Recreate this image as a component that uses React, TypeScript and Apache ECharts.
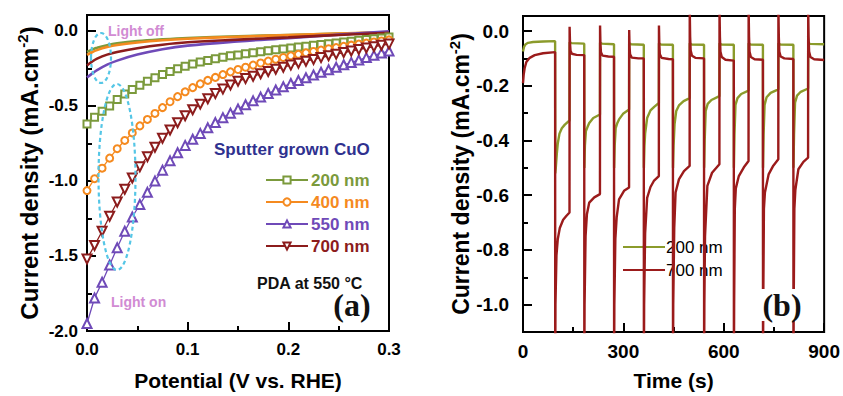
import React, { useEffect, useRef } from "react";
import * as echarts from "echarts";

// ---------- Panel (a): linear sweep voltammetry ----------
const potentialOn = [
  0, 0.0075, 0.015, 0.0225, 0.03, 0.0375, 0.045, 0.0525, 0.06, 0.0675, 0.075,
  0.0825, 0.09, 0.0975, 0.105, 0.1125, 0.12, 0.1275, 0.135, 0.1425, 0.15,
  0.1575, 0.165, 0.1725, 0.18, 0.1875, 0.195, 0.2025, 0.21, 0.2175, 0.225,
  0.2325, 0.24, 0.2475, 0.255, 0.2625, 0.27, 0.2775, 0.285, 0.2925, 0.3,
];
const j200On = [
  -0.62, -0.575, -0.535, -0.5, -0.457, -0.42, -0.39, -0.362, -0.336, -0.312,
  -0.29, -0.27, -0.253, -0.236, -0.221, -0.208, -0.197, -0.186, -0.176, -0.166,
  -0.16, -0.153, -0.146, -0.139, -0.132, -0.126, -0.12, -0.114, -0.108, -0.102,
  -0.096, -0.091, -0.085, -0.08, -0.074, -0.069, -0.063, -0.058, -0.052, -0.047,
  -0.041,
];
const j400On = [
  -1.064, -0.985, -0.915, -0.848, -0.785, -0.73, -0.68, -0.633, -0.59, -0.55,
  -0.511, -0.472, -0.438, -0.406, -0.378, -0.353, -0.33, -0.31, -0.291, -0.273,
  -0.257, -0.242, -0.228, -0.214, -0.201, -0.189, -0.177, -0.166, -0.156, -0.146,
  -0.137, -0.128, -0.119, -0.111, -0.103, -0.095, -0.088, -0.081, -0.074, -0.067,
  -0.06,
];
const j550On = [
  -1.95, -1.78, -1.675, -1.56, -1.445, -1.335, -1.24, -1.157, -1.076, -1.0,
  -0.928, -0.866, -0.812, -0.763, -0.722, -0.683, -0.646, -0.611, -0.578, -0.548,
  -0.52, -0.492, -0.466, -0.441, -0.417, -0.394, -0.372, -0.351, -0.331, -0.312,
  -0.294, -0.276, -0.259, -0.242, -0.226, -0.21, -0.194, -0.178, -0.163, -0.148,
  -0.134,
];
const j700On = [
  -1.52, -1.43, -1.335, -1.235, -1.14, -1.055, -0.98, -0.905, -0.838, -0.775,
  -0.715, -0.66, -0.612, -0.565, -0.525, -0.488, -0.452, -0.418, -0.388, -0.36,
  -0.335, -0.318, -0.302, -0.286, -0.271, -0.256, -0.242, -0.228, -0.215, -0.202,
  -0.19, -0.178, -0.166, -0.155, -0.144, -0.134, -0.124, -0.114, -0.105, -0.096,
  -0.088,
];

const potentialDark = [0, 0.005, 0.01, 0.02, 0.03, 0.05, 0.075, 0.1, 0.15, 0.2, 0.25, 0.3];
const j200Dark = [-0.14, -0.125, -0.112, -0.095, -0.083, -0.068, -0.056, -0.047, -0.036, -0.027, -0.018, -0.01];
const j400Dark = [-0.16, -0.142, -0.128, -0.108, -0.094, -0.077, -0.062, -0.052, -0.039, -0.028, -0.017, -0.007];
const j550Dark = [-0.31, -0.285, -0.262, -0.225, -0.198, -0.158, -0.122, -0.098, -0.07, -0.048, -0.025, -0.003];
const j700Dark = [-0.23, -0.205, -0.185, -0.158, -0.14, -0.115, -0.092, -0.076, -0.058, -0.043, -0.027, -0.012];

const thicknessLabels = ["200 nm", "400 nm", "550 nm", "700 nm"];
const thicknessColors = ["#7b9a3c", "#f58a1f", "#6f4ab8", "#8c1c1c"];
const thicknessSymbols = ["emptyRect", "emptyCircle", "emptyTriangle", "emptyTriangle"];
const thicknessRotate = [0, 0, 0, 180];

// ---------- Panel (b): chopped-light chronoamperometry [time s, current mA/cm2] ----------
const chopped200 = [
  [0, -0.075], [3, -0.058], [8, -0.048], [15, -0.043], [30, -0.04], [60, -0.038], [96, -0.037],
  [96.3, -0.52], [98, -0.5], [101, -0.45], [104, -0.41], [109, -0.375], [116, -0.355], [125, -0.342], [139, -0.327],
  [139.3, -0.041], [145, -0.044], [183, -0.046],
  [183.3, -0.5], [185, -0.42], [188, -0.366], [193, -0.35], [198, -0.336], [210, -0.318], [230, -0.305],
  [230.3, -0.043], [236, -0.046], [272, -0.048],
  [272.3, -0.5], [274, -0.42], [277, -0.355], [282, -0.336], [287, -0.323], [300, -0.301], [317, -0.287],
  [317.3, -0.045], [323, -0.048], [361, -0.05],
  [361.3, -0.5], [363, -0.42], [365, -0.375], [371, -0.318], [381, -0.29], [392, -0.277], [406, -0.263],
  [406.3, -0.045], [412, -0.049], [448, -0.05],
  [448.3, -0.5], [450, -0.42], [453, -0.34], [458, -0.292], [466, -0.272], [480, -0.256], [498, -0.245],
  [498.3, -0.045], [504, -0.049], [541, -0.05],
  [541.3, -0.5], [543, -0.4], [546, -0.292], [552, -0.266], [563, -0.252], [587, -0.238],
  [587.3, -0.045], [593, -0.049], [630, -0.05],
  [630.3, -0.5], [632, -0.38], [635, -0.27], [641, -0.245], [652, -0.23], [674, -0.218],
  [674.3, -0.045], [680, -0.049], [717, -0.05],
  [717.3, -0.5], [719, -0.38], [722, -0.27], [728, -0.242], [740, -0.226], [763, -0.213],
  [763.3, -0.045], [769, -0.049], [808, -0.05],
  [808.3, -0.5], [810, -0.38], [813, -0.262], [819, -0.236], [830, -0.222], [852, -0.21],
  [852.3, -0.044], [858, -0.047], [900, -0.048],
];
const chopped700 = [
  [0, -0.19], [2, -0.16], [5, -0.135], [10, -0.113], [20, -0.098], [35, -0.088], [60, -0.081], [96, -0.077],
  [96.3, -1.3], [97, -1.0], [100, -0.82], [104, -0.76], [110, -0.72], [120, -0.69], [130, -0.675], [139, -0.663],
  [139.3, 0.016], [140.5, -0.045], [142, -0.072], [146, -0.083], [160, -0.087], [183, -0.088],
  [183.3, -1.3], [184, -1.0], [187, -0.75], [191, -0.67], [198, -0.627], [213, -0.608], [230, -0.596],
  [230.3, 0.02], [231.5, -0.05], [233, -0.078], [238, -0.09], [255, -0.093], [272, -0.094],
  [272.3, -1.3], [273, -1.0], [276, -0.76], [280, -0.68], [287, -0.615], [302, -0.584], [317, -0.572],
  [317.3, 0.004], [318.5, -0.06], [320, -0.085], [325, -0.097], [345, -0.1], [361, -0.1],
  [361.3, -1.3], [362, -1.0], [365, -0.74], [371, -0.61], [381, -0.57], [391, -0.548], [406, -0.53],
  [406.3, 0.02], [407.5, -0.055], [409, -0.085], [414, -0.098], [435, -0.102], [448, -0.103],
  [448.3, -1.3], [449, -1.0], [452, -0.72], [456, -0.59], [466, -0.542], [481, -0.512], [498, -0.493],
  [498.3, 0.08], [499.5, -0.02], [501, -0.07], [505, -0.09], [515, -0.098], [541, -0.1],
  [541.3, -1.3], [542, -1.0], [544, -0.75], [551, -0.566], [565, -0.518], [587, -0.487],
  [587.3, 0.08], [588.5, -0.02], [590, -0.075], [594, -0.095], [605, -0.105], [630, -0.108],
  [630.3, -1.3], [631, -1.0], [633, -0.65], [636, -0.575], [645, -0.53], [660, -0.498], [674, -0.475],
  [674.3, 0.08], [675.5, -0.02], [677, -0.075], [681, -0.095], [692, -0.103], [717, -0.105],
  [717.3, -1.3], [718, -1.0], [720, -0.65], [723, -0.59], [734, -0.524], [748, -0.492], [763, -0.469],
  [763.3, 0.08], [764.5, -0.02], [766, -0.075], [770, -0.093], [781, -0.1], [808, -0.102],
  [808.3, -1.3], [809, -1.0], [811, -0.65], [814, -0.58], [823, -0.505], [838, -0.478], [852, -0.463],
  [852.3, 0.08], [853.5, -0.02], [855, -0.075], [859, -0.095], [870, -0.103], [900, -0.106],
];
const choppedLabels = ["200 nm", "700 nm"];
const choppedColors = ["#8b9b2b", "#9b1b1b"];

const FONT = "'Liberation Sans', Arial, Helvetica, sans-serif";
const SERIF = "'Liberation Serif', 'Times New Roman', serif";

function baseAxis(labelSize: number) {
  return {
    type: "value" as const,
    axisLine: { show: true, onZero: false, lineStyle: { color: "#000", width: 2 } },
    axisTick: { show: true, inside: true, length: 9, lineStyle: { color: "#000", width: 2 } },
    splitLine: { show: false },
    axisLabel: { color: "#000", fontSize: labelSize, fontWeight: "bold" as const, fontFamily: FONT },
    nameTextStyle: { color: "#000", fontSize: 21, fontWeight: "bold" as const, fontFamily: FONT },
  };
}

function minorAxis(gridIndex: number, min: number, max: number, interval: number) {
  return {
    type: "value" as const,
    gridIndex,
    min,
    max,
    interval,
    position: "left" as const,
    axisLine: { show: false },
    axisLabel: { show: false },
    splitLine: { show: false },
    axisTick: { show: true, inside: true, length: 5, lineStyle: { color: "#000", width: 2 } },
  };
}

function yName(size: number, supSize: number) {
  return {
    name: "{t|Current density (mA.cm}{s|-2}{t|)}",
    nameLocation: "middle" as const,
    nameTextStyle: {
      color: "#000",
      rich: {
        t: { fontSize: size, fontWeight: "bold" as const, fontFamily: FONT, color: "#000", lineHeight: size + 4 },
        s: { fontSize: supSize, fontWeight: "bold" as const, fontFamily: FONT, color: "#000", verticalAlign: "top" as const, lineHeight: size + 4 },
      },
    },
  };
}

function buildOption() {
  const seriesA: any[] = [];
  const darkSets = [j200Dark, j400Dark, j550Dark, j700Dark];
  const onSets = [j200On, j400On, j550On, j700On];
  darkSets.forEach((vals, i) => {
    seriesA.push({
      type: "line",
      name: thicknessLabels[i] + " dark",
      xAxisIndex: 0,
      yAxisIndex: 0,
      data: potentialDark.map((x, k) => [x, vals[k]]),
      smooth: 0.4,
      symbol: "none",
      lineStyle: { color: thicknessColors[i], width: 2.6 },
      itemStyle: { color: thicknessColors[i] },
      z: 3,
    });
  });
  onSets.forEach((vals, i) => {
    seriesA.push({
      type: "line",
      name: thicknessLabels[i],
      xAxisIndex: 0,
      yAxisIndex: 0,
      data: potentialOn.map((x, k) => [x, vals[k]]),
      symbol: thicknessSymbols[i],
      symbolSize: i >= 2 ? 9 : 7,
      symbolRotate: thicknessRotate[i],
      showAllSymbol: true,
      lineStyle: { color: thicknessColors[i], width: 1.3 },
      itemStyle: { color: thicknessColors[i], borderWidth: 1.3 },
      z: 4,
    });
  });

  const seriesB: any[] = [chopped200, chopped700].map((pts, i) => ({
    type: "line",
    name: choppedLabels[i] + "|b",
    xAxisIndex: 1,
    yAxisIndex: 2,
    data: pts,
    symbol: "none",
    clip: true,
    lineStyle: { color: choppedColors[i], width: 2.4 },
    itemStyle: { color: choppedColors[i] },
    z: 3 + i,
  }));

  const axA = baseAxis(17);
  const axB = baseAxis(19);

  return {
    animation: false,
    backgroundColor: "#fff",
    grid: [
      { left: 87, top: 15, width: 302, height: 318, show: true, borderColor: "#000", borderWidth: 2, backgroundColor: "transparent" },
      { left: 523, top: 16, width: 303, height: 318, show: true, borderColor: "#000", borderWidth: 2, backgroundColor: "transparent" },
    ],
    xAxis: [
      {
        ...axA,
        gridIndex: 0,
        min: 0,
        max: 0.3,
        interval: 0.1,
        minorTick: { show: true, splitNumber: 2, length: 5, lineStyle: { color: "#000", width: 2 } },
        axisLabel: { ...axA.axisLabel, margin: 10, formatter: (v: number) => v.toFixed(1) },
        name: "Potential (V vs. RHE)",
        nameLocation: "middle",
        nameGap: 39,
      },
      {
        ...axB,
        gridIndex: 1,
        min: 0,
        max: 900,
        interval: 300,
        minorTick: { show: true, splitNumber: 2, length: 5, lineStyle: { color: "#000", width: 2 } },
        axisLabel: { ...axB.axisLabel, margin: 10 },
        name: "Time (s)",
        nameLocation: "middle",
        nameGap: 38,
      },
    ],
    yAxis: [
      {
        ...axA,
        gridIndex: 0,
        min: -2,
        max: 0.106,
        interval: 0.5,
        axisLabel: { ...axA.axisLabel, margin: 9, showMaxLabel: false, formatter: (v: number) => v.toFixed(1) },
        ...yName(24, 15),
        nameGap: 44,
      },
      minorAxis(0, -2, 0.106, 0.25),
      {
        ...axB,
        gridIndex: 1,
        min: -1.1,
        max: 0.055,
        splitNumber: 5,
        axisLabel: {
          ...axB.axisLabel,
          margin: 14,
          showMinLabel: false,
          showMaxLabel: false,
          formatter: (v: number) => {
            const k = Math.round(v / 0.2);
            return Math.abs(v - k * 0.2) < 1e-6 ? v.toFixed(1) : "";
          },
        },
        ...yName(23, 15),
        nameGap: 49,
      },
      minorAxis(1, -1.1, 0.055, 0.1),
    ],
    legend: [
      {
        data: thicknessLabels.map((n, i) => ({ name: n, textStyle: { color: thicknessColors[i] } })),
        left: 260,
        top: 166,
        orient: "vertical",
        itemWidth: 42,
        itemHeight: 9,
        itemGap: 4,
        selectedMode: false,
        textStyle: { fontSize: 17, fontWeight: "bold", fontFamily: FONT, lineHeight: 18, padding: [0, 0, 0, -2] },
      },
      {
        data: choppedLabels.map((n) => n + "|b"),
        formatter: (name: string) => name.split("|")[0],
        left: 617,
        top: 233,
        orient: "vertical",
        itemWidth: 42,
        itemHeight: 4,
        itemGap: 5,
        selectedMode: false,
        textStyle: { fontSize: 17, fontFamily: FONT, color: "#000", lineHeight: 18, padding: [0, 0, 0, -4] },
      },
    ],
    graphic: [
      {
        type: "ellipse",
        shape: { cx: 101, cy: 58, rx: 10, ry: 25 },
        style: { fill: "none", stroke: "#55c6e6", lineWidth: 2.2, lineDash: [4, 3] },
        z: 50,
      },
      {
        type: "ellipse",
        shape: { cx: 117, cy: 177, rx: 18.5, ry: 93 },
        style: { fill: "none", stroke: "#55c6e6", lineWidth: 2.2, lineDash: [4, 3] },
        z: 50,
      },
      {
        type: "text",
        x: 108,
        y: 31,
        style: { text: "Light off", font: `bold 14px ${FONT}`, fill: "#d18bd3", align: "left", verticalAlign: "middle", textAlign: "left", textVerticalAlign: "middle" },
        z: 60,
      },
      {
        type: "text",
        x: 111,
        y: 302,
        style: { text: "Light on", font: `bold 14px ${FONT}`, fill: "#d18bd3", align: "left", verticalAlign: "middle", textAlign: "left", textVerticalAlign: "middle" },
        z: 60,
      },
      {
        type: "text",
        x: 214,
        y: 149,
        style: { text: "Sputter grown CuO", font: `bold 17px ${FONT}`, fill: "#2f318f", align: "left", verticalAlign: "middle", textAlign: "left", textVerticalAlign: "middle" },
        z: 60,
      },
      {
        type: "text",
        x: 257,
        y: 283,
        style: { text: "PDA at 550 \u00b0C", font: `bold 16px ${FONT}`, fill: "#111", align: "left", verticalAlign: "middle", textAlign: "left", textVerticalAlign: "middle" },
        z: 60,
      },
      {
        type: "text",
        x: 352,
        y: 305,
        style: { text: "(a)", font: `bold 32px ${SERIF}`, fill: "#111", align: "center", verticalAlign: "middle", textAlign: "center", textVerticalAlign: "middle" },
        z: 60,
      },
      {
        type: "text",
        x: 782,
        y: 305,
        style: {
          text: "(b)",
          font: `bold 32px ${SERIF}`,
          fill: "#111",
          align: "center",
          verticalAlign: "middle",
          textAlign: "center",
          textVerticalAlign: "middle",
          backgroundColor: "#fff",
          padding: [0, 2, 0, 2],
        },
        z: 60,
      },
    ],
    series: [...seriesA, ...seriesB],
  };
}

export default function App() {
  const ref = useRef<HTMLDivElement>(null);
  useEffect(() => {
    if (!ref.current) return;
    const chart = echarts.init(ref.current, null, { renderer: "svg", width: 843, height: 396 });
    chart.setOption(buildOption() as any);
    return () => {
      chart.dispose();
    };
  }, []);
  return (
    <div
      ref={ref}
      style={{ position: "fixed", left: 0, top: 0, width: 843, height: 396, background: "#fff" }}
    />
  );
}
